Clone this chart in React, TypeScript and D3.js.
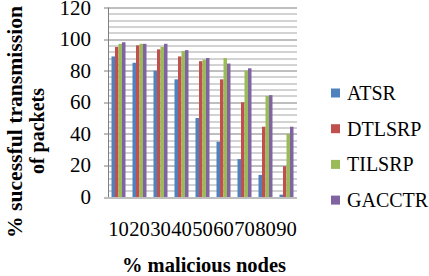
import * as d3 from "d3";
import React from "react";

const categories = ["10", "20", "30", "40", "50", "60", "70", "80", "90"];
const seriesNames = ["ATSR", "DTLSRP", "TILSRP", "GACCTR"];
const atsr = [89, 85, 80, 74.5, 50, 35, 24, 14, 1.5];
const dtlsrp = [95, 96, 93.5, 89, 86, 74.5, 60, 44.5, 19.5];
const tilsrp = [97, 97, 95, 92.5, 87, 88, 80, 64, 40];
const gacctr = [98, 97, 97, 93, 88, 84.5, 81.5, 64.5, 44.5];
const yTicks = [0, 20, 40, 60, 80, 100, 120];
const colors = ["#4F81BD", "#C0504D", "#9BBB59", "#8064A2"];

const width = 429;
const height = 276;
const margin = { top: 7.5, left: 108, right: 132, bottom: 79 };
const chartW = width - margin.left - margin.right;
const chartH = height - margin.top - margin.bottom;

const css = `
  svg.chart text { font-family: "Liberation Serif", "Times New Roman", serif !important; }
  svg.chart text.b { font-weight: 700 !important; }
`;

export default function App() {
  const x0 = d3.scaleBand().domain(categories).range([0, chartW]);
  const x1 = d3.scaleBand().domain(seriesNames).range([3.5, x0.bandwidth() - 3.5]);
  const y = d3.scaleLinear().domain([0, 120]).range([chartH, 0]);
  const series = [atsr, dtlsrp, tilsrp, gacctr];
  const minor = d3.range(4, 121, 4).filter(v => v % 20 !== 0);
  const py = (v: number) => Math.round(y(v)) + 0.5;

  return (
    <svg className="chart" width={width} height={height} style={{ position: "absolute", left: 0, top: 0 }}>
      <style>{css}</style>
      <g transform={`translate(${margin.left},${margin.top})`}>
        {minor.map(v => (
          <line key={"m" + v} x1={0} x2={chartW} y1={py(v)} y2={py(v)} stroke="#a6a6a6" />
        ))}
        {yTicks.map(v => (
          <line key={"M" + v} x1={-4} x2={chartW} y1={py(v)} y2={py(v)} stroke="#7f7f7f" />
        ))}
        {categories.map((c, i) => (
          <g key={c} transform={`translate(${x0(c)},0)`}>
            {series.map((s, k) => (
              <rect
                key={k}
                x={x1(seriesNames[k])}
                width={x1.bandwidth()}
                y={y(s[i])}
                height={chartH - y(s[i])}
                fill={colors[k]}
              />
            ))}
          </g>
        ))}
        <line x1={0.5} x2={0.5} y1={0} y2={chartH} stroke="#7f7f7f" />
        {yTicks.map(v => (
          <text key={"t" + v} x={-17} y={y(v) + 7} textAnchor="end" fontSize={21}>
            {v}
          </text>
        ))}
        {categories.map(c => (
          <text key={"c" + c} x={x0(c)! + x0.bandwidth() / 2} y={chartH + 38.5} textAnchor="middle" fontSize={20.6}>
            {c}
          </text>
        ))}
      </g>
      <text className="b" x={204} y={272} textAnchor="middle" fontSize={20.5}>
        % malicious nodes
      </text>
      <text
        className="b"
        transform="translate(22,122) rotate(-90)"
        textAnchor="middle"
        fontSize={20}
        textLength={232}
        lengthAdjust="spacingAndGlyphs"
      >
        % sucessful transmission
      </text>
      <text className="b" transform="translate(44,131) rotate(-90)" textAnchor="middle" fontSize={20}>
        of packets
      </text>
      {seriesNames.map((n, i) => (
        <g key={n} transform={`translate(331,${93 + i * 35.7})`}>
          <rect x={0} y={-4.5} width={9} height={9} fill={colors[i]} />
          <text x={16} y={7} fontSize={20}>
            {n}
          </text>
        </g>
      ))}
    </svg>
  );
}
